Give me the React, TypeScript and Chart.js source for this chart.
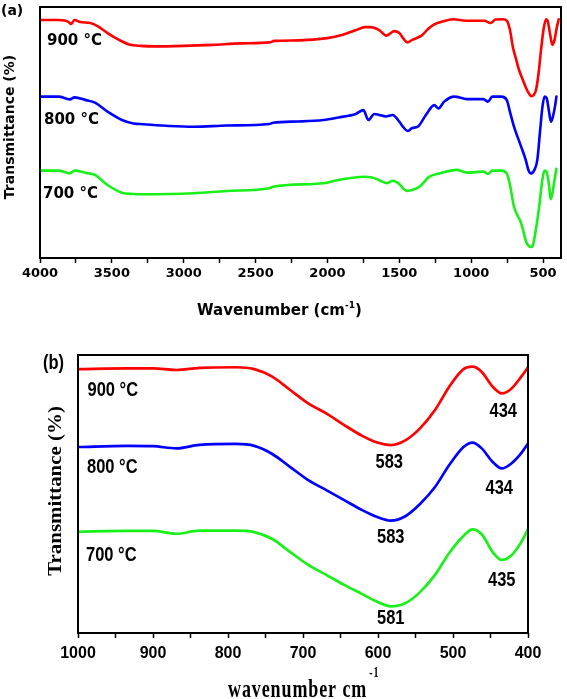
import React, { useEffect, useRef } from "react";
import { Chart, registerables } from "chart.js";
Chart.register(...registerables);

// ---------- Panel (a): full range FTIR spectra ----------
const redWaveA = [4000, 3870, 3800, 3785, 3760, 3720, 3650, 3600, 3530, 3450, 3380, 3300, 3200, 3000, 2800, 2600, 2400, 2370, 2200, 2000, 1900, 1800, 1740, 1700, 1640, 1590, 1560, 1535, 1500, 1470, 1445, 1410, 1380, 1345, 1300, 1260, 1200, 1127, 1035, 910, 865, 830, 780, 750, 730, 710, 690, 667, 640, 618, 600, 583, 565, 549, 530, 514, 495, 478, 467, 450, 435, 420, 405, 391];
const redA = [94.8, 94.8, 94.0, 93.2, 94.8, 94.0, 93.6, 92.4, 89.6, 86.9, 85.1, 84.5, 84.3, 84.5, 84.9, 85.5, 85.9, 86.5, 86.7, 87.6, 88.8, 90.8, 92.0, 92.0, 90.8, 88.6, 89.6, 90.4, 89.6, 87.3, 85.9, 86.9, 87.6, 88.6, 91.2, 93.0, 94.2, 95.1, 94.5, 94.5, 93.6, 95.0, 95.1, 94.4, 90.8, 84.1, 79.7, 74.9, 70.9, 67.7, 65.7, 64.5, 64.9, 66.9, 74.1, 82.9, 91.6, 95.1, 94.4, 88.8, 84.9, 86.9, 91.6, 95.1];

const blueWaveA = [4000, 3870, 3792, 3760, 3680, 3618, 3530, 3430, 3350, 3279, 3100, 2930, 2700, 2404, 2378, 2200, 2028, 1924, 1803, 1750, 1715, 1674, 1640, 1593, 1546, 1500, 1470, 1442, 1410, 1372, 1315, 1257, 1227, 1188, 1118, 1028, 915, 883, 853, 790, 752, 730, 702, 652, 620, 602, 583, 560, 540, 520, 505, 490, 475, 460, 445, 430, 415, 407];
const blueA = [64.3, 64.3, 63.2, 64.0, 62.9, 61.9, 58.3, 55.0, 53.6, 53.3, 52.6, 52.3, 52.8, 53.4, 53.9, 54.4, 55.0, 56.0, 57.4, 58.9, 55.0, 57.4, 57.0, 56.4, 57.0, 54.3, 52.0, 50.6, 51.8, 52.3, 57.0, 60.9, 59.6, 62.3, 64.3, 63.3, 63.3, 62.3, 64.3, 64.3, 62.9, 58.2, 52.3, 44.3, 39.0, 35.1, 33.7, 35.1, 39.0, 51.0, 59.8, 64.3, 63.7, 59.0, 54.3, 56.6, 61.0, 64.3];

const greenWaveA = [4000, 3870, 3792, 3760, 3680, 3618, 3530, 3430, 3350, 3279, 2930, 2700, 2404, 2378, 2028, 1924, 1750, 1690, 1640, 1585, 1546, 1500, 1470, 1442, 1400, 1360, 1290, 1220, 1100, 1028, 915, 883, 853, 790, 752, 730, 702, 652, 615, 598, 585, 570, 545, 527, 505, 490, 475, 457, 447, 437, 420, 407];
const greenA = [34.8, 34.8, 33.7, 34.8, 33.9, 33.1, 29.1, 26.0, 25.5, 25.4, 25.8, 26.7, 27.8, 28.4, 29.8, 31.1, 32.4, 32.1, 31.0, 29.8, 30.8, 29.5, 27.5, 26.7, 27.3, 28.4, 32.4, 33.7, 35.1, 34.0, 34.4, 33.5, 34.8, 34.8, 33.7, 29.1, 20.4, 13.8, 6.1, 4.7, 4.4, 5.2, 13.1, 20.4, 31.1, 34.8, 34.3, 28.4, 23.4, 25.1, 31.1, 35.5];

const ticksA = [500, 750, 1000, 1250, 1500, 1750, 2000, 2250, 2500, 2750, 3000, 3250, 3500, 3750, 4000];

// ---------- Panel (b): 1000-400 cm-1 region ----------
const waveB = [1000, 934, 900, 869, 838, 789, 765, 741, 717, 693, 669, 645, 621, 601, 583, 563, 544, 524, 505, 486, 474, 462, 447, 435, 423, 409, 400];
const redB = [94.9, 95.2, 95.2, 94.6, 95.4, 95.6, 94.9, 92.2, 87.4, 82.6, 79.0, 74.8, 70.9, 68.5, 67.6, 69.4, 73.6, 80.2, 88.6, 94.9, 95.8, 94.0, 88.6, 86.2, 87.7, 92.2, 95.6];
const blueB = [66.9, 67.3, 67.2, 66.4, 67.7, 68.0, 67.3, 64.4, 59.7, 55.0, 51.4, 47.8, 44.2, 41.7, 40.4, 42.1, 46.4, 52.5, 60.4, 66.9, 68.5, 66.5, 61.5, 59.2, 60.8, 64.7, 68.2];
const greenB = [36.4, 36.7, 36.7, 35.7, 36.8, 36.8, 36.3, 33.8, 29.1, 24.5, 20.9, 17.3, 14.0, 11.2, 9.6, 10.8, 14.7, 20.9, 28.8, 34.9, 37.3, 35.6, 29.1, 26.3, 27.7, 32.7, 37.4];

const ticksB = [400, 450, 500, 550, 600, 650, 700, 750, 800, 850, 900, 950, 1000];

const seriesNames = ["900 °C", "800 °C", "700 °C"];
const peakLabelsB = ["583", "434", "583", "434", "581", "435"];

const RED = "#ff0000";
const BLUE = "#0000ff";
const GREEN = "#19f019";

type Part = { t: string; font: string; dy?: number; dx?: number };
type Label = { parts: Part[]; x: number; y: number; align?: "left" | "center"; rot?: boolean; sx?: number; sy?: number; ls?: string };

const pts = (xs: number[], ys: number[]) => xs.map((x, i) => ({ x, y: ys[i] }));

function drawLabel(ctx: CanvasRenderingContext2D, lab: Label) {
  ctx.save();
  ctx.translate(lab.x, lab.y);
  if (lab.rot) ctx.rotate(-Math.PI / 2);
  ctx.scale(lab.sx ?? 1, lab.sy ?? 1);
  ctx.fillStyle = "#000";
  ctx.textBaseline = "alphabetic";
  ctx.textAlign = "left";
  (ctx as any).letterSpacing = lab.ls ?? "0px";
  let total = 0;
  for (const p of lab.parts) {
    ctx.font = p.font;
    total += ctx.measureText(p.t).width + (p.dx ?? 0);
  }
  let cx = lab.align === "center" ? -total / 2 : 0;
  for (const p of lab.parts) {
    ctx.font = p.font;
    cx += p.dx ?? 0;
    ctx.fillText(p.t, cx, p.dy ?? 0);
    cx += ctx.measureText(p.t).width;
  }
  ctx.restore();
}

const framePlugin = {
  id: "frame",
  afterDraw(chart: any) {
    const { ctx, chartArea: a } = chart;
    ctx.save();
    ctx.strokeStyle = "#000";
    ctx.lineWidth = 2;
    ctx.strokeRect(a.left, a.top, a.right - a.left, a.bottom - a.top);
    ctx.restore();
  },
};

const makeTextPlugin = (labels: Label[]) => ({
  id: "texts",
  afterDraw(chart: any) {
    for (const l of labels) drawLabel(chart.ctx, l);
  },
});

const fA = (px: number) => `bold ${px}px "DejaVu Sans", sans-serif`;
const fB = (px: number) => `bold ${px}px "Liberation Sans", Arial, sans-serif`;
const fS = (px: number) => `bold ${px}px "Liberation Serif", "Times New Roman", serif`;

const H_A = 335;
const H_B = 699 - H_A;

const labelsA: Label[] = [
  { parts: [{ t: "(a)", font: fA(14) }], x: 1, y: 14.5 },
  { parts: [{ t: seriesNames[0], font: fA(15) }], x: 47, y: 45 },
  { parts: [{ t: seriesNames[1], font: fA(15) }], x: 44, y: 124 },
  { parts: [{ t: seriesNames[2], font: fA(15) }], x: 43, y: 198 },
  {
    parts: [
      { t: "Wavenumber (cm", font: fA(15) },
      { t: "-1", font: fA(9), dy: -7 },
      { t: ")", font: fA(15) },
    ],
    x: 197,
    y: 315,
  },
  { parts: [{ t: "Transmittance (%)", font: fA(14) }], x: 13.5, y: 127, rot: true, align: "center" },
];

const oB = H_A;
const labelsB: Label[] = [
  { parts: [{ t: "(b)", font: fB(16.5) }], x: 43, y: 368.5 - oB, sy: 1.2 },
  { parts: [{ t: seriesNames[0], font: fB(16.5) }], x: 87.5, y: 396 - oB, sy: 1.2 },
  { parts: [{ t: seriesNames[1], font: fB(16.5) }], x: 87, y: 473 - oB, sy: 1.2 },
  { parts: [{ t: seriesNames[2], font: fB(16.5) }], x: 86, y: 560.5 - oB, sy: 1.2 },
  { parts: [{ t: peakLabelsB[0], font: fB(16.5) }], x: 375.5, y: 468 - oB, sy: 1.2 },
  { parts: [{ t: peakLabelsB[1], font: fB(16.5) }], x: 489.5, y: 417 - oB, sy: 1.2 },
  { parts: [{ t: peakLabelsB[2], font: fB(16.5) }], x: 377, y: 543 - oB, sy: 1.2 },
  { parts: [{ t: peakLabelsB[3], font: fB(16.5) }], x: 485.5, y: 494 - oB, sy: 1.2 },
  { parts: [{ t: peakLabelsB[4], font: fB(16.5) }], x: 377, y: 624 - oB, sy: 1.2 },
  { parts: [{ t: peakLabelsB[5], font: fB(16.5) }], x: 488, y: 586 - oB, sy: 1.2 },
  {
    parts: [
      { t: "wavenumber cm", font: fS(18) },
      { t: "-1", font: fS(10), dy: -14, dx: 2 },
    ],
    x: 228,
    y: 697 - oB,
    sy: 1.4,
    ls: "0.9px",
  },
  { parts: [{ t: "Transmittance (%)", font: fS(19) }], x: 61, y: 491 - oB, rot: true, align: "center", sx: 1.1 },
];

function lineDs(data: { x: number; y: number }[], color: string, width: number) {
  return {
    data,
    borderColor: color,
    borderWidth: width,
    pointRadius: 0,
    fill: false,
    borderJoinStyle: "round" as const,
    borderCapStyle: "round" as const,
    cubicInterpolationMode: "monotone" as const,
  };
}

export default function App() {
  const refA = useRef<HTMLCanvasElement>(null);
  const refB = useRef<HTMLCanvasElement>(null);

  useEffect(() => {
    Chart.defaults.color = "#000";
    const chartA = new Chart(refA.current as HTMLCanvasElement, {
      type: "line",
      data: {
        datasets: [
          lineDs(pts(redWaveA, redA), RED, 2.6),
          lineDs(pts(blueWaveA, blueA), BLUE, 2.6),
          lineDs(pts(greenWaveA, greenA), GREEN, 2.6),
        ],
      },
      options: {
        animation: false,
        responsive: false,
        maintainAspectRatio: false,
        layout: { padding: { left: 0, top: 7, right: 6, bottom: 0 } },
        plugins: { legend: { display: false }, tooltip: { enabled: false } },
        scales: {
          x: {
            type: "linear",
            reverse: true,
            min: 375,
            max: 4000,
            afterBuildTicks: (s: any) => {
              s.ticks = ticksA.map((v) => ({ value: v }));
            },
            afterFit: (s: any) => {
              s.height = H_A - 258;
            },
            grid: { drawOnChartArea: false, drawTicks: true, tickLength: 5, color: "#000", tickWidth: 1.5 },
            border: { display: false },
            ticks: {
              autoSkip: false,
              maxRotation: 0,
              padding: 3,
              color: "#000",
              font: { family: '"DejaVu Sans", sans-serif', weight: "bold", size: 13 },
              callback: (v: any) => (Number(v) % 500 === 0 ? String(v) : ""),
            },
          },
          y: {
            min: 0,
            max: 100,
            afterFit: (s: any) => {
              s.width = 40;
            },
            ticks: { display: false },
            grid: { display: false },
            border: { display: false },
          },
        },
      } as any,
      plugins: [framePlugin, makeTextPlugin(labelsA)],
    });

    const chartB = new Chart(refB.current as HTMLCanvasElement, {
      type: "line",
      data: {
        datasets: [
          lineDs(pts(waveB, redB), RED, 2.7),
          lineDs(pts(waveB, blueB), BLUE, 2.7),
          lineDs(pts(waveB, greenB), GREEN, 2.7),
        ],
      },
      options: {
        animation: false,
        responsive: false,
        maintainAspectRatio: false,
        layout: { padding: { left: 0, top: 355 - H_A, right: 567 - 528, bottom: 0 } },
        plugins: { legend: { display: false }, tooltip: { enabled: false } },
        scales: {
          x: {
            type: "linear",
            reverse: true,
            min: 400,
            max: 1000,
            afterBuildTicks: (s: any) => {
              s.ticks = ticksB.map((v) => ({ value: v }));
            },
            afterFit: (s: any) => {
              s.height = H_B - (633 - H_A);
            },
            grid: { drawOnChartArea: false, drawTicks: true, tickLength: 5, color: "#000", tickWidth: 1.5 },
            border: { display: false },
            ticks: {
              autoSkip: false,
              maxRotation: 0,
              padding: 6,
              color: "#000",
              font: { family: '"Liberation Sans Narrow", "Liberation Sans", sans-serif', weight: "bold", size: 16 },
              callback: (v: any) => (Number(v) % 100 === 0 ? String(v) : ""),
            },
          },
          y: {
            min: 0,
            max: 100,
            afterFit: (s: any) => {
              s.width = 78;
            },
            ticks: { display: false },
            grid: { display: false },
            border: { display: false },
          },
        },
      } as any,
      plugins: [framePlugin, makeTextPlugin(labelsB)],
    });

    return () => {
      chartA.destroy();
      chartB.destroy();
    };
  }, []);

  return (
    <div style={{ position: "absolute", left: 0, top: 0, width: 567, height: 699, background: "#fff", overflow: "hidden" }}>
      <canvas ref={refA} width={567} height={H_A} style={{ position: "absolute", left: 0, top: 0, display: "block" }} />
      <canvas ref={refB} width={567} height={H_B} style={{ position: "absolute", left: 0, top: H_A, display: "block" }} />
    </div>
  );
}
